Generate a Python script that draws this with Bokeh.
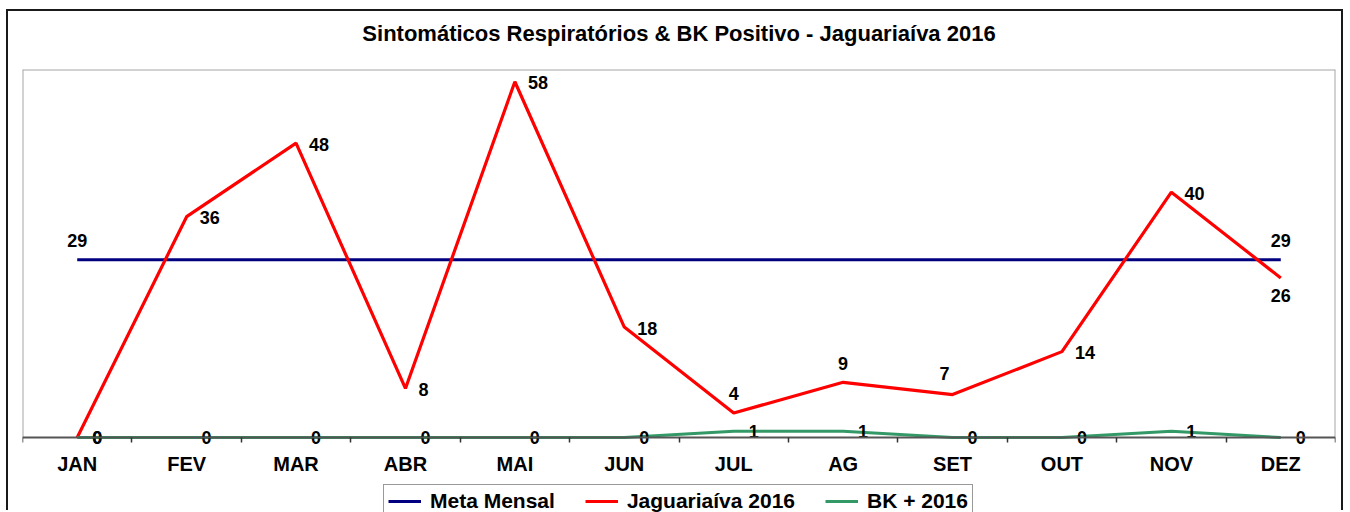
from bokeh.plotting import figure
from bokeh.models import (ColumnDataSource, Range1d, FixedTicker, Legend, LegendItem, Title)
from bokeh.core.properties import value
from bokeh.embed import file_html
from bokeh.resources import INLINE

# ---------------- data ----------------
months = ["JAN", "FEV", "MAR", "ABR", "MAI", "JUN", "JUL", "AG", "SET", "OUT", "NOV", "DEZ"]
meta_mensal = [29, 29, 29, 29, 29, 29, 29, 29, 29, 29, 29, 29]
jaguariaiva_2016 = [0, 36, 48, 8, 58, 18, 4, 9, 7, 14, 40, 26]
bk_2016 = [0, 0, 0, 0, 0, 0, 1, 1, 0, 0, 1, 0]
series_names = ["Meta Mensal", "Jaguariaíva 2016", "BK + 2016"]
title_text = "Sintomáticos Respiratórios & BK Positivo - Jaguariaíva 2016"

# label placement styles (Excel-like)
jag_label_pos = ["zero", "right", "right", "right", "right", "right",
                 "above", "above", "above_left", "right", "right", "below"]
meta_label_show = [True] + [False] * 10 + [True]

FONT = "Liberation Sans"
RED = "#ff0000"
NAVY = "#000080"
GREEN = "#339966"
FRAME_GRAY = "#a6a6a6"

# ---------------- layout (pixels) ----------------
W, H = 1337, 501
TOP_BORDER = 58          # canvas top -> plot area top
PLOT_H = 368             # plot area top -> x axis line
Y_TOP = 60               # value at the top of the plot area
below_px = H - TOP_BORDER - PLOT_H   # room for axis labels + legend, inside the frame
Y_BOTTOM = -Y_TOP * below_px / PLOT_H
X0, X1 = 0, len(months)

xs = [i + 0.5 for i in range(len(months))]

p = figure(width=W, height=H, x_range=Range1d(X0, X1), y_range=Range1d(Y_BOTTOM, Y_TOP),
           output_backend="svg", toolbar_location=None, title_location=None,
           min_border_left=14, min_border_right=10, min_border_top=TOP_BORDER, min_border_bottom=0)
p.styles = {"margin-left": "6px", "margin-top": "9px",
            "border-left": "2px solid #1a1a1a", "border-top": "2px solid #1a1a1a",
            "border-right": "2px solid #1a1a1a"}

# spacer between plot area and title, then the title itself
p.add_layout(Title(text=" ", text_font_size="1px", standoff=19), "above")
p.add_layout(Title(text=title_text, align="center", vertical_align="top",
                   text_font=FONT, text_font_style="bold", text_font_size="22px",
                   text_color="black", standoff=0), "above")

p.xgrid.visible = False
p.ygrid.visible = False
p.yaxis.visible = False
p.outline_line_color = None

# plot-area border (left, top, right) following the ranges
p.segment(x0=[X0, X0, X1], y0=[0, Y_TOP, Y_TOP], x1=[X0, X1, X1], y1=[Y_TOP, Y_TOP, 0],
          line_color=FRAME_GRAY, line_width=2)

ax = p.xaxis[0]
ax.fixed_location = 0
ax.ticker = FixedTicker(ticks=xs, minor_ticks=list(range(len(months) + 1)))
ax.major_label_overrides = {x: m for x, m in zip(xs, months)}
ax.major_tick_line_color = None
ax.major_tick_out = 0
ax.major_tick_in = 0
ax.minor_tick_line_color = "#333333"
ax.minor_tick_line_width = 1.5
ax.minor_tick_out = 5
ax.minor_tick_in = 0
ax.axis_line_color = "#555555"
ax.axis_line_width = 2
ax.major_label_text_font = FONT
ax.major_label_text_font_style = "bold"
ax.major_label_text_font_size = "20px"
ax.major_label_text_color = "black"
ax.major_label_standoff = 10

src = ColumnDataSource(dict(x=xs, meta=meta_mensal, jag=jaguariaiva_2016, bk=bk_2016))

r_meta = p.line("x", "meta", source=src, line_color=NAVY, line_width=3)
r_jag = p.line("x", "jag", source=src, line_color=RED, line_width=3.2)
r_bk = p.line("x", "bk", source=src, line_color=GREEN, line_width=3)

# ---------- data labels ----------
def label_source(vals, positions, show=None):
    d = dict(x=[], y=[], text=[], xo=[], yo=[], align=[])
    for i, (x, v, pos) in enumerate(zip(xs, vals, positions)):
        if show is not None and not show[i]:
            continue
        if pos == "right":
            xo, yo, al = 13, 1, "left"
        elif pos == "above":
            xo, yo, al = 0, -19, "center"
        elif pos == "above_left":
            xo, yo, al = -8, -21, "center"
        elif pos == "below":
            xo, yo, al = 0, 17, "center"
        else:  # right of point, centred on it
            xo, yo, al = 20, 0, "center"
        d["x"].append(x); d["y"].append(v); d["text"].append(str(v))
        d["xo"].append(xo); d["yo"].append(yo); d["align"].append(al)
    return ColumnDataSource(d)

for vals, pos, show in [(meta_mensal, ["above"] * 12, meta_label_show),
                        (jaguariaiva_2016, jag_label_pos, None),
                        (bk_2016, ["zero"] * 12, None)]:
    p.text("x", "y", text="text", x_offset="xo", y_offset="yo", text_align="align",
           source=label_source(vals, pos, show),
           text_font=value(FONT), text_font_style="bold", text_font_size="18px",
           text_color="black", text_baseline="middle")

# ---------- legend ----------
legend = Legend(items=[LegendItem(label=n, renderers=[r])
                       for n, r in zip(series_names, [r_meta, r_jag, r_bk])],
                orientation="horizontal", location=(361, -6))
legend.label_text_font = FONT
legend.label_text_font_style = "bold"
legend.label_text_font_size = "21px"
legend.label_text_color = "black"
legend.glyph_width = 33
legend.label_standoff = 9
legend.spacing = 30
legend.padding = 4
legend.margin = 0
legend.border_line_color = "#333333"
legend.border_line_width = 1.5
legend.background_fill_color = "white"
legend.background_fill_alpha = 1
p.add_layout(legend, "center")

open("out.html", "w").write(file_html(p, INLINE))
